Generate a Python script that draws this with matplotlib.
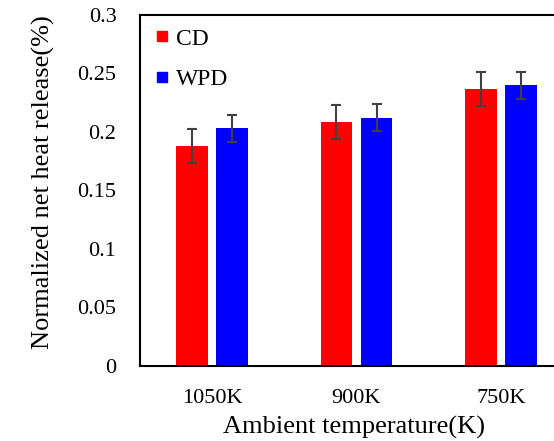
import matplotlib
matplotlib.use("Agg")
import matplotlib.pyplot as plt
from matplotlib.lines import Line2D
import numpy as np

temps = ["1050K", "900K", "750K"]
cd_vals = [0.188, 0.2085, 0.2367]
wpd_vals = [0.203, 0.212, 0.240]
cd_err = [0.0145, 0.0143, 0.0145]
wpd_err = [0.0115, 0.0115, 0.0115]

plt.rcParams['font.family'] = ['Liberation Serif', 'DejaVu Serif']

W, H = 554, 441
fig = plt.figure(figsize=(W / 100, H / 100), dpi=100)
# axes runs past the right edge, as in the source (right spine is cut off)
ax = fig.add_axes([140 / W, (H - 365.7) / H, 433 / W, 350.7 / H])

x = np.arange(len(temps))
bw = 0.219
off = 0.1386
ekw = dict(ecolor='#404040', elinewidth=1.5, capsize=3.6, capthick=1.5)
ax.bar(x - off, cd_vals, bw, color='#FF0000', yerr=cd_err, error_kw=ekw, zorder=2)
ax.bar(x + off, wpd_vals, bw, color='#0000FF', yerr=wpd_err, error_kw=ekw, zorder=2)

ax.set_xlim(-0.5, 2.5)
ax.set_ylim(0, 0.3)
ax.set_yticks([0, 0.05, 0.1, 0.15, 0.2, 0.25, 0.3])
ax.set_yticklabels(["0", "0.05", "0.1", "0.15", "0.2", "0.25", "0.3"])
ax.set_xticks(x)
ax.set_xticklabels(temps)
ax.tick_params(axis='both', length=0, labelsize=16)
ax.tick_params(axis='y', pad=17)
ax.tick_params(axis='x', pad=17)
for s in ['left', 'bottom', 'top']:
    ax.spines[s].set_linewidth(1.5)
ax.spines['right'].set_visible(False)

fig.text(354 / W, 1 - 427 / H, "Ambient temperature(K)", fontsize=19,
         ha='center', va='center')
fig.text(43 / W, 1 - 182 / H, "Normalized net heat release(%)", fontsize=19,
         ha='center', va='center', rotation=90)

handles = [Line2D([], [], ls='none', marker='s', markersize=7.5, color='#FF0000'),
           Line2D([], [], ls='none', marker='s', markersize=7.5, color='#0000FF')]
ax.legend(handles, ["CD", "WPD"], loc='upper left',
          bbox_to_anchor=(155 / W, 1 - 28 / H), bbox_transform=fig.transFigure,
          frameon=False, fontsize=17, handlelength=0.6, handletextpad=0.3,
          labelspacing=0.82, borderpad=0, borderaxespad=0)

fig.savefig("out.png", dpi=100)
